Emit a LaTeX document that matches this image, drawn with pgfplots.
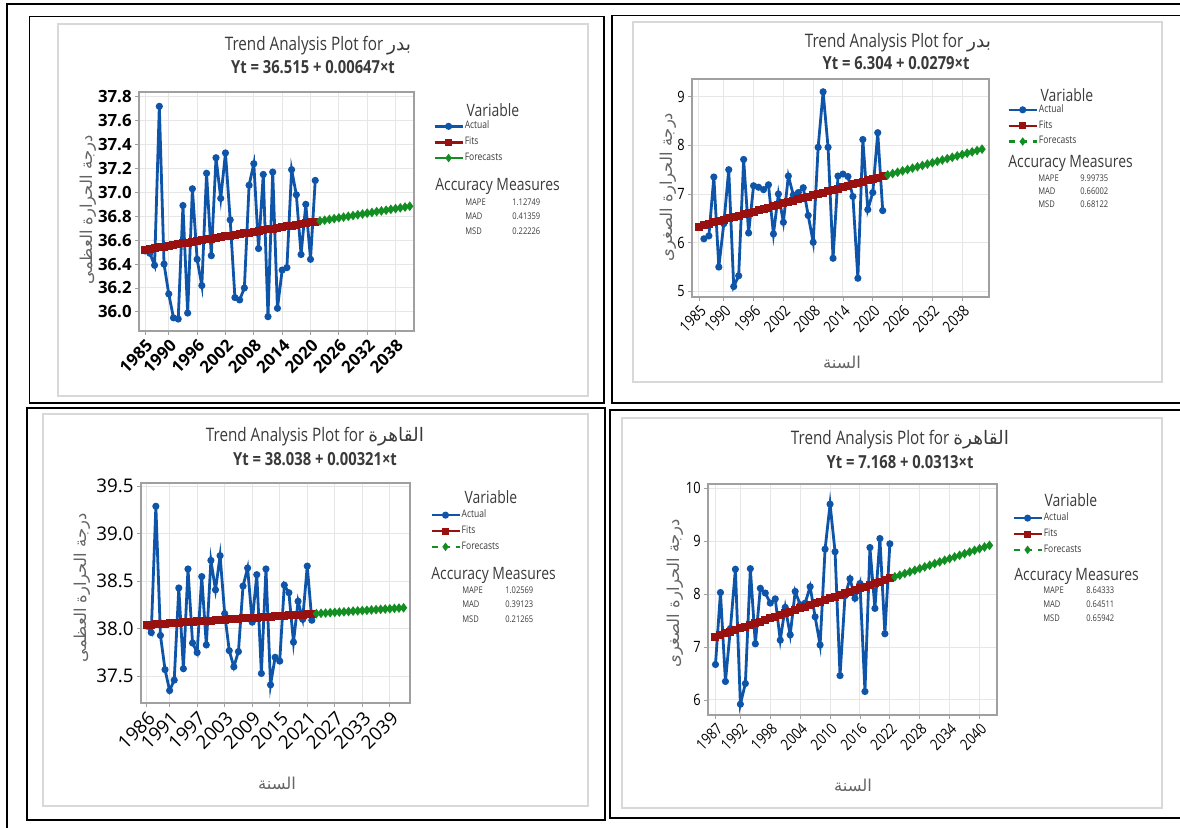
\documentclass[border=0pt]{standalone}
\usepackage{fontspec}
\usepackage{pgfplots}
\pgfplotsset{compat=1.18}
\setmainfont{Open Sans}
\newfontfamily\narrowfont{Open Sans}[FakeStretch=0.82]
\newfontfamily\arabicfont[Script=Arabic]{DejaVu Sans}
\TeXXeTstate=1
\newcommand{\artext}[1]{{\arabicfont\beginR #1\endR}}

\definecolor{actualblue}{RGB}{14,84,168}
\definecolor{fitred}{RGB}{152,16,16}
\definecolor{fcgreen}{RGB}{18,142,34}
\definecolor{gridgray}{RGB}{230,230,230}
\definecolor{boxgray}{RGB}{160,160,160}
\definecolor{txtgray}{RGB}{58,58,58}
\definecolor{labgray}{RGB}{100,100,100}
\definecolor{panelgray}{RGB}{216,216,216}

\pgfplotsset{
  trendaxis/.style={
    scale only axis,
    anchor=south west,
    axis line style={boxgray, line width=0.6pt},
    grid=major,
    major grid style={gridgray, line width=0.5pt},
    tick style={boxgray, line width=0.4pt},
    major tick length=2pt,
    xtick pos=bottom, ytick pos=left,
    tick align=outside,
    x tick label style={rotate=45, anchor=north east, inner sep=1pt},
    y tick label style={inner sep=1.5pt},
    /pgf/number format/assume math mode=true,
    legend cell align=left,
    legend style={draw=none, fill=none, anchor=north west,
      font=\narrowfont\fontsize{5.2}{5.6}\selectfont\color{txtgray},
      row sep=1.6pt, inner sep=0pt,
      nodes={inner sep=0.5pt},
      /tikz/every even column/.append style={column sep=1.5pt}},
    legend image code/.code={\draw[##1, line width=1.2pt, mark size=1.15pt, mark repeat=2, mark phase=2]
      plot coordinates {(0pt,0pt) (7pt,0pt) (14pt,0pt)};},
  },
  actual/.style={actualblue, line width=1.4pt, mark=*, mark size=1.05pt, mark options={solid}},
  fits/.style={fitred, line width=1.9pt, mark=square*, mark size=1.05pt, mark options={solid}},
  fcst/.style={fcgreen, line width=1.2pt, mark=diamond*, mark size=1.45pt, mark options={solid}},
}

\begin{document}
\begin{tikzpicture}
\path[use as bounding box] (0pt,0pt) rectangle (590pt,-414pt);

\begin{scope}[x=0.5pt,y=-0.5pt]
  % page rules and panel frames
  \draw[line width=1.4pt] (7,830) -- (7,4) -- (1182,4);
  \draw[line width=0.6pt] (29.5,16.5) rectangle (604,403);
  \draw[line width=0.6pt] (1182,15.5) -- (612,15.5) -- (612,403) -- (1182,403);
  \draw[line width=0.6pt] (27,408) rectangle (605,820);
  \draw[line width=0.6pt] (1182,410) -- (610,410) -- (610,818) -- (1182,818);
  % graph areas
  \draw[panelgray, line width=0.6pt] (58,24) rectangle (588,396);
  \draw[panelgray, line width=0.6pt] (633,22) rectangle (1162,382);
  \draw[panelgray, line width=0.6pt] (43,414) rectangle (588,806);
  \draw[panelgray, line width=0.6pt] (622,418) rectangle (1162,808);

  % titles
  \begin{scope}[every node/.style={txtgray, inner sep=0pt}]
  \node[font=\narrowfont\fontsize{9.3}{10}\selectfont] at (318,46) {Trend Analysis Plot for \artext{بدر}};
  \node[font=\narrowfont\bfseries\fontsize{9}{10}\selectfont] at (313,67) {Yt = 36.515 + 0.00647×t};
  \node[font=\narrowfont\fontsize{9.3}{10}\selectfont] at (898,43) {Trend Analysis Plot for \artext{بدر}};
  \node[font=\narrowfont\bfseries\fontsize{9}{10}\selectfont] at (896,63) {Yt = 6.304 + 0.0279×t};
  \node[font=\narrowfont\fontsize{9.3}{10}\selectfont] at (315,437) {Trend Analysis Plot for \artext{القاهرة}};
  \node[font=\narrowfont\bfseries\fontsize{9}{10}\selectfont] at (315,459) {Yt = 38.038 + 0.00321×t};
  \node[font=\narrowfont\fontsize{9.3}{10}\selectfont] at (900,440) {Trend Analysis Plot for \artext{القاهرة}};
  \node[font=\narrowfont\bfseries\fontsize{9}{10}\selectfont] at (900,462) {Yt = 7.168 + 0.0313×t};

  % legend headings
  \node[font=\narrowfont\fontsize{8.5}{9}\selectfont] at (493,110) {Variable};
  \node[font=\narrowfont\fontsize{8.5}{9}\selectfont] at (1067,95) {Variable};
  \node[font=\narrowfont\fontsize{8.5}{9}\selectfont] at (491,497) {Variable};
  \node[font=\narrowfont\fontsize{8.5}{9}\selectfont] at (1071,500) {Variable};

  % accuracy measures
  \node[font=\narrowfont\fontsize{8.5}{9}\selectfont, anchor=west] at (435,186) {Accuracy Measures};
  \node[font=\narrowfont\fontsize{8.5}{9}\selectfont, anchor=west] at (1008,163) {Accuracy Measures};
  \node[font=\narrowfont\fontsize{8.5}{9}\selectfont, anchor=west] at (431,575) {Accuracy Measures};
  \node[font=\narrowfont\fontsize{8.5}{9}\selectfont, anchor=west] at (1014,576) {Accuracy Measures};
  \end{scope}

  \begin{scope}[every node/.style={txtgray, inner sep=0pt, anchor=west, font=\narrowfont\fontsize{4.6}{5}\selectfont}]
  \node at (465,202) {MAPE}; \node at (512,202) {1.12749};
  \node at (465,216) {MAD};  \node at (512,216) {0.41359};
  \node at (465,231) {MSD};  \node at (512,231) {0.22226};
  \node at (1038,178) {MAPE}; \node at (1080,178) {9.99735};
  \node at (1038,191) {MAD};  \node at (1080,191) {0.66002};
  \node at (1038,204) {MSD};  \node at (1080,204) {0.68122};
  \node at (462,590) {MAPE}; \node at (505,590) {1.02569};
  \node at (462,604) {MAD};  \node at (505,604) {0.39123};
  \node at (462,619) {MSD};  \node at (505,619) {0.21265};
  \node at (1043,590) {MAPE}; \node at (1086,590) {8.64333};
  \node at (1043,604) {MAD};  \node at (1086,604) {0.64511};
  \node at (1043,618) {MSD};  \node at (1086,618) {0.65942};
  \end{scope}

  % axis titles
  \begin{scope}[every node/.style={labgray, inner sep=0pt, font=\fontsize{8.2}{9}\selectfont}]
  \node[rotate=90] at (88,210) {\artext{درجة الحرارة العظمى}};
  \node[rotate=90] at (668,187) {\artext{درجة الحرارة الصغرى}};
  \node[rotate=90] at (82,588) {\artext{درجة الحرارة العظمى}};
  \node[rotate=90] at (675,593) {\artext{درجة الحرارة الصغرى}};
  \node at (842,362) {\artext{السنة}};
  \node at (277,783) {\artext{السنة}};
  \node at (853,785) {\artext{السنة}};
  \end{scope}
\end{scope}

% ---------------- Badr, maximum temperature ----------------
\begin{axis}[trendaxis, at={(69.5pt,-165.5pt)}, width=137.5pt, height=119.5pt,
  xmin=1983.7, xmax=2041.9, ymin=35.84, ymax=37.84,
  xtick={1985,1990,1996,2002,2008,2014,2020,2026,2032,2038},
  xticklabels={1985,1990,1996,2002,2008,2014,2020,2026,2032,2038},
  ytick={36.0,36.2,36.4,36.6,36.8,37.0,37.2,37.4,37.6,37.8},
  yticklabel style={/pgf/number format/.cd, fixed, fixed zerofill, precision=1},
  tick label style={font=\bfseries\fontsize{8.4}{9}\selectfont, black},
  legend style={at={(1.069,0.885)}},
]
\addplot[actual] coordinates {
(1985,36.51) (1986,36.49) (1987,36.39) (1988,37.72) (1989,36.40) (1990,36.15)
(1991,35.95) (1992,35.94) (1993,36.89) (1994,35.99) (1995,37.03) (1996,36.44)
(1997,36.22) (1998,37.16) (1999,36.47) (2000,37.29) (2001,36.95) (2002,37.33)
(2003,36.77) (2004,36.12) (2005,36.10) (2006,36.20) (2007,37.06) (2008,37.24)
(2009,36.53) (2010,37.15) (2011,35.96) (2012,37.17) (2013,36.03) (2014,36.35)
(2015,36.37) (2016,37.19) (2017,36.98) (2018,36.48) (2019,36.90) (2020,36.44)
(2021,37.10)};
\addlegendentry{Actual}
\addplot[fits] coordinates {
(1985,36.521) (1986,36.528) (1987,36.534) (1988,36.541) (1989,36.547) (1990,36.554)
(1991,36.560) (1992,36.567) (1993,36.573) (1994,36.580) (1995,36.586) (1996,36.593)
(1997,36.599) (1998,36.606) (1999,36.612) (2000,36.619) (2001,36.625) (2002,36.631)
(2003,36.638) (2004,36.644) (2005,36.651) (2006,36.657) (2007,36.664) (2008,36.670)
(2009,36.677) (2010,36.683) (2011,36.690) (2012,36.696) (2013,36.703) (2014,36.709)
(2015,36.716) (2016,36.722) (2017,36.729) (2018,36.735) (2019,36.741) (2020,36.748)
(2021,36.754)};
\addlegendentry{Fits}
\addplot[fcst] coordinates {
(2022,36.761) (2023,36.767) (2024,36.774) (2025,36.780) (2026,36.787) (2027,36.793)
(2028,36.800) (2029,36.806) (2030,36.813) (2031,36.819) (2032,36.826) (2033,36.832)
(2034,36.839) (2035,36.845) (2036,36.851) (2037,36.858) (2038,36.864) (2039,36.871)
(2040,36.877) (2041,36.884)};
\addlegendentry{Forecasts}
\end{axis}

% ---------------- Badr, minimum temperature ----------------
\begin{axis}[trendaxis, at={(346pt,-148.5pt)}, width=148.5pt, height=109pt,
  xmin=1983.6, xmax=2043.4, ymin=4.885, ymax=9.363,
  xtick={1985,1990,1996,2002,2008,2014,2020,2026,2032,2038},
  xticklabels={1985,1990,1996,2002,2008,2014,2020,2026,2032,2038},
  ytick={5,6,7,8,9},
  tick label style={font=\narrowfont\fontsize{7.8}{8}\selectfont, black},
  legend style={at={(1.061,0.89)}},
]
\addplot[actual] coordinates {
(1986,6.08) (1987,6.14) (1988,7.35) (1989,5.50) (1990,6.39) (1991,7.50)
(1992,5.10) (1993,5.32) (1994,7.71) (1995,6.20) (1996,7.17) (1997,7.14)
(1998,7.09) (1999,7.19) (2000,6.18) (2001,7.00) (2002,6.42) (2003,7.37)
(2004,6.98) (2005,7.03) (2006,7.13) (2007,6.56) (2008,6.01) (2009,7.96)
(2010,9.10) (2011,7.96) (2012,5.68) (2013,7.37) (2014,7.41) (2015,7.36)
(2016,6.95) (2017,5.27) (2018,8.12) (2019,6.68) (2020,7.03) (2021,8.26)
(2022,6.66)};
\addlegendentry{Actual}
\addplot[fits] coordinates {
(1985,6.332) (1986,6.360) (1987,6.388) (1988,6.416) (1989,6.444) (1990,6.471)
(1991,6.499) (1992,6.527) (1993,6.555) (1994,6.583) (1995,6.611) (1996,6.639)
(1997,6.667) (1998,6.695) (1999,6.723) (2000,6.750) (2001,6.778) (2002,6.806)
(2003,6.834) (2004,6.862) (2005,6.890) (2006,6.918) (2007,6.946) (2008,6.974)
(2009,7.002) (2010,7.029) (2011,7.057) (2012,7.085) (2013,7.113) (2014,7.141)
(2015,7.169) (2016,7.197) (2017,7.225) (2018,7.253) (2019,7.281) (2020,7.308)
(2021,7.336) (2022,7.364)};
\addlegendentry{Fits}
\addplot[fcst, dashed] coordinates {
(2023,7.392) (2024,7.420) (2025,7.448) (2026,7.476) (2027,7.504) (2028,7.532)
(2029,7.560) (2030,7.587) (2031,7.615) (2032,7.643) (2033,7.671) (2034,7.699)
(2035,7.727) (2036,7.755) (2037,7.783) (2038,7.811) (2039,7.839) (2040,7.866)
(2041,7.894) (2042,7.922)};
\addlegendentry{Forecasts}
\end{axis}

% ---------------- Cairo, maximum temperature ----------------
\begin{axis}[trendaxis, at={(70.5pt,-351.5pt)}, width=134.5pt, height=110pt,
  xmin=1984.76, xmax=2043.4, ymin=37.219, ymax=39.535,
  xtick={1986,1991,1997,2003,2009,2015,2021,2027,2033,2039},
  xticklabels={1986,1991,1997,2003,2009,2015,2021,2027,2033,2039},
  ytick={37.5,38.0,38.5,39.0,39.5},
  yticklabel style={/pgf/number format/.cd, fixed, fixed zerofill, precision=1},
  tick label style={font=\fontsize{9.4}{10}\selectfont, black},
  legend style={at={(1.074,0.885)}},
]
\addplot[actual] coordinates {
(1986,38.03) (1987,37.96) (1988,39.29) (1989,37.93) (1990,37.57) (1991,37.35)
(1992,37.46) (1993,38.43) (1994,37.58) (1995,38.63) (1996,37.85) (1997,37.75)
(1998,38.55) (1999,37.83) (2000,38.72) (2001,38.41) (2002,38.77) (2003,38.16)
(2004,37.77) (2005,37.60) (2006,37.76) (2007,38.45) (2008,38.64) (2009,38.07)
(2010,38.57) (2011,37.53) (2012,38.63) (2013,37.41) (2014,37.70) (2015,37.66)
(2016,38.46) (2017,38.38) (2018,37.86) (2019,38.29) (2020,38.10) (2021,38.66)
(2022,38.09)};
\addlegendentry{Actual}
\addplot[fits] coordinates {
(1986,38.041) (1987,38.044) (1988,38.048) (1989,38.051) (1990,38.054) (1991,38.057)
(1992,38.060) (1993,38.064) (1994,38.067) (1995,38.070) (1996,38.073) (1997,38.077)
(1998,38.080) (1999,38.083) (2000,38.086) (2001,38.089) (2002,38.093) (2003,38.096)
(2004,38.099) (2005,38.102) (2006,38.105) (2007,38.109) (2008,38.112) (2009,38.115)
(2010,38.118) (2011,38.121) (2012,38.125) (2013,38.128) (2014,38.131) (2015,38.134)
(2016,38.138) (2017,38.141) (2018,38.144) (2019,38.147) (2020,38.150) (2021,38.154)
(2022,38.157)};
\addlegendentry{Fits}
\addplot[fcst, dashed] coordinates {
(2023,38.160) (2024,38.163) (2025,38.166) (2026,38.170) (2027,38.173) (2028,38.176)
(2029,38.179) (2030,38.182) (2031,38.186) (2032,38.189) (2033,38.192) (2034,38.195)
(2035,38.199) (2036,38.202) (2037,38.205) (2038,38.208) (2039,38.211) (2040,38.215)
(2041,38.218) (2042,38.221)};
\addlegendentry{Forecasts}
\end{axis}

% ---------------- Cairo, minimum temperature ----------------
\begin{axis}[trendaxis, at={(354pt,-357.5pt)}, width=144.5pt, height=115.5pt,
  xmin=1985.5, xmax=2043.5, ymin=5.716, ymax=10.08,
  xtick={1987,1992,1998,2004,2010,2016,2022,2028,2034,2040},
  xticklabels={1987,1992,1998,2004,2010,2016,2022,2028,2034,2040},
  ytick={6,7,8,9,10},
  tick label style={font=\narrowfont\fontsize{7.8}{8}\selectfont, black},
  legend style={at={(1.052,0.882)}},
]
\addplot[actual] coordinates {
(1987,6.67) (1988,8.03) (1989,6.35) (1990,7.35) (1991,8.47) (1992,5.92)
(1993,6.31) (1994,8.48) (1995,7.06) (1996,8.11) (1997,8.02) (1998,7.83)
(1999,7.91) (2000,7.13) (2001,7.75) (2002,7.23) (2003,8.05) (2004,7.80)
(2005,7.83) (2006,8.14) (2007,7.57) (2008,7.04) (2009,8.85) (2010,9.70)
(2011,8.80) (2012,6.46) (2013,7.97) (2014,8.29) (2015,7.92) (2016,8.20)
(2017,6.16) (2018,8.88) (2019,7.73) (2020,9.05) (2021,7.25) (2022,8.95)};
\addlegendentry{Actual}
\addplot[fits] coordinates {
(1987,7.199) (1988,7.231) (1989,7.262) (1990,7.293) (1991,7.325) (1992,7.356)
(1993,7.387) (1994,7.418) (1995,7.450) (1996,7.481) (1997,7.512) (1998,7.544)
(1999,7.575) (2000,7.606) (2001,7.638) (2002,7.669) (2003,7.700) (2004,7.731)
(2005,7.763) (2006,7.794) (2007,7.825) (2008,7.857) (2009,7.888) (2010,7.919)
(2011,7.951) (2012,7.982) (2013,8.013) (2014,8.044) (2015,8.076) (2016,8.107)
(2017,8.138) (2018,8.170) (2019,8.201) (2020,8.232) (2021,8.264) (2022,8.295)};
\addlegendentry{Fits}
\addplot[fcst, dashed] coordinates {
(2023,8.326) (2024,8.357) (2025,8.389) (2026,8.420) (2027,8.451) (2028,8.483)
(2029,8.514) (2030,8.545) (2031,8.577) (2032,8.608) (2033,8.639) (2034,8.670)
(2035,8.702) (2036,8.733) (2037,8.764) (2038,8.796) (2039,8.827) (2040,8.858)
(2041,8.890) (2042,8.921)};
\addlegendentry{Forecasts}
\end{axis}
\end{tikzpicture}
\end{document}
